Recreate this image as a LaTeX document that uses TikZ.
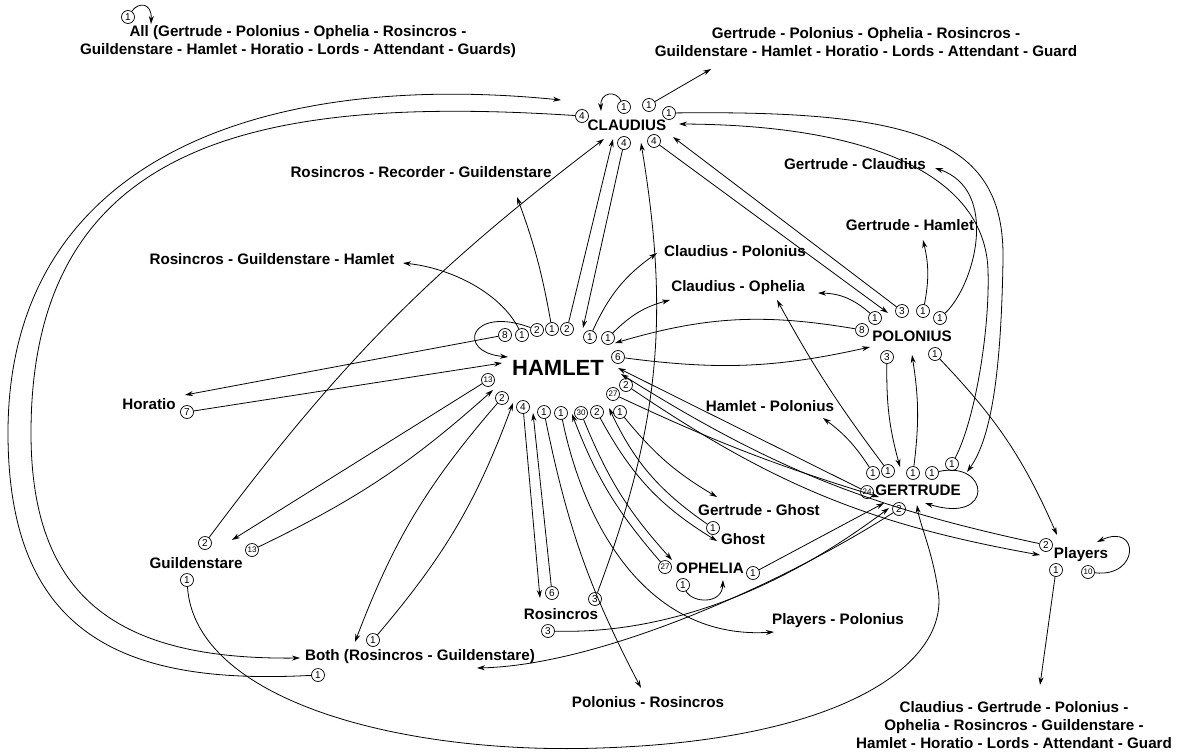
\documentclass[tikz,border=0pt]{standalone}
\usepackage{fontspec}
\setmainfont{Liberation Sans}
\usetikzlibrary{arrows.meta}

\tikzset{
  lbl/.style={inner sep=0pt, font=\bfseries\fontsize{15.2}{18}\selectfont, align=center},
  badge/.style={circle, draw, line width=0.7pt, minimum size=13pt, inner sep=0pt, font=\fontsize{10}{10}\selectfont},
  badgetwo/.style={badge, font=\fontsize{8}{8}\selectfont},
  link/.style={line width=0.8pt, -{Stealth[length=8pt,width=5pt]}},
}

\begin{document}
\begin{tikzpicture}[x=1pt,y=-1pt]
\useasboundingbox (0,0) rectangle (1184,755);

\node[lbl, font=\bfseries\fontsize{22}{24}\selectfont] (hamlet) at (558,368) {HAMLET};
\node[lbl] (claudius) at (627,125) {CLAUDIUS};
\node[lbl] (polonius) at (912,336) {POLONIUS};
\node[lbl] (gertrude) at (918,490) {GERTRUDE};
\node[lbl] (ophelia) at (710,568) {OPHELIA};
\node[lbl] (ghost) at (743,539) {Ghost};
\node[lbl] (players) at (1081,555) {Players};
\node[lbl] (horatio) at (149,404) {Horatio};
\node[lbl] (guild) at (196,563) {Guildenstare};
\node[lbl] (rosin) at (561,614) {Rosincros};
\node[lbl] (both) at (420,657) {Both (Rosincros - Guildenstare)};
\node[lbl] (allgrp) at (298,42) {All (Gertrude - Polonius - Ophelia - Rosincros -\\Guildenstare - Hamlet - Horatio - Lords - Attendant - Guards)};
\node[lbl] (court) at (866,42) {Gertrude - Polonius - Ophelia - Rosincros -\\Guildenstare - Hamlet - Horatio - Lords - Attendant - Guard};
\node[lbl] (recorder) at (421,172) {Rosincros - Recorder - Guildenstare};
\node[lbl] (rgh) at (272,259) {Rosincros - Guildenstare - Hamlet};
\node[lbl] (gcl) at (855,164) {Gertrude - Claudius};
\node[lbl] (gha) at (910,225) {Gertrude - Hamlet};
\node[lbl] (cpo) at (735,251) {Claudius - Polonius};
\node[lbl] (coph) at (738,288) {Claudius - Ophelia};
\node[lbl] (hpo) at (770,406) {Hamlet - Polonius};
\node[lbl] (ggh) at (759,510) {Gertrude - Ghost};
\node[lbl] (ppo) at (838,621) {Players - Polonius};
\node[lbl] (pro) at (648,702) {Polonius - Rosincros};
\node[lbl] (cast) at (1014,725) {Claudius - Gertrude - Polonius -\\Ophelia - Rosincros - Guildenstare -\\Hamlet - Horatio - Lords - Attendant - Guard};

\foreach \n/\x/\y/\t in {ball/128/17/1,
    cb4a/582/116/4, cb1loop/624/107/1, cb1court/649/105/1, cb1ger/669/113/1, cb4ham/624/143/4, cb4pol/654/141/4,
    hb8/505/335/8, hb1rgh/522/335/1, hb2loop/537/330/2, hb1rec/552/329/1, hb2cla/567/329/2, hb1cp/590/337/1,
    hb1co/608/338/1, hb6/618/357/6, hb2pl/626/385/2, hb2both/502/398/2, hb4/523/407/4, hb1pr/544/412/1,
    hb1pp/561/413/1, hb2gh/597/412/2, hb1gg/620/412/1,
    pb8/862/330/8, pb1co/875/318/1, pb3cla/902/311/3, pb1gh/923/311/1, pb1gc/940/318/1, pb3ger/887/357/3, pb1pl/935/354/1,
    gb1hp/873/473/1, gb1co/888/471/1, gb1pol/913/473/1, gb1loop/932/473/1, gb1cla/952/464/1, gb2/899/509/2,
    rb7/187/412/7, ub2/205/543/2, ub1/187/580/1, bb1up/373/640/1, bb1/318/675/1,
    sb6/552/593/6, sb3cla/595/599/3, sb3ger/548/631/3, ob1ger/753/573/1, ob1loop/683/585/1,
    qb1/713/528/1, yb2/1046/545/2, yb1/1056/570/1}
  \node[badge] (\n) at (\x,\y) {\t};
\foreach \n/\x/\y/\t in {hb27/613/394/27, hb13/488/380/13, hb30/581/413/30, gb24/867/492/24,
    ub13/252/550/13, ob27/665/567/27, yb10/1088/572/10}
  \node[badgetwo] (\n) at (\x,\y) {\t};

\foreach \n/\x/\y in {tall/151/24, court-in/711/69,
    c-in-both/561/100, c-in-loop/601/111, c-in-guild/604/139, c-in-ham/613/139, c-in-rosin/641/143,
    c-in-pol/673/137, c-in-ger/679/124,
    rec-in/517/197, rgh-in/403/263, cp-in/657/253, co-in-ham/670/300, co-in-pol/818/293, co-in-ger/777/300,
    gc-in/935/168, gh-in/923/240,
    h-in-cla/583/328, h-in-loop/508/357, h-in-pol/615/343, h-in-ger/618/368, h-in-pl/621/374, h-in-hor/502/363,
    h-in-guild/493/390, h-in-both/513/403, h-in-rosin/533/413, h-in-oph/572/414, h-in-ghost/609/408,
    p-in-cla/888/313, p-in-ham/870/347, p-in-ger/912/355,
    g-in-pol/900/467, g-in-cla/967/472, g-in-ham/879/497, g-in-oph/884/503, g-in-rosin/889/508,
    g-in-loop/925/503, g-in-guild/917/505,
    hor-in/185/395, guild-in/232/540, both-in-cla/300/658, both-in-ham/355/642, both-in-ger/477/668,
    rosin-in/540/598, oph-in/672/560, oph-in-loop/723/580, ghost-in/717/541, gg-in/717/497, hp-in/823/418,
    pp-in/774/632, pr-in/641/688, pl-in-pol/1057/535, pl-in-ham/1040/555, pl-in-loop/1097/542, cast-in/1040/685}
  \coordinate (\n) at (\x,\y);

% Claudius
\draw[link] (ball) .. controls (138,2) and (152,2) .. (tall);
\draw[link] (cb1loop) .. controls (616,90) and (600,92) .. (c-in-loop);
\draw[link] (cb1court) -- (court-in);
\draw[link] (cb4a) .. controls (260,95) and (31,140) .. (31,433) .. controls (31,600) and (120,660) .. (both-in-cla);
\draw[link] (bb1) .. controls (130,685) and (8,640) .. (8,433) .. controls (8,160) and (260,70) .. (c-in-both);
\draw[link] (cb1ger) .. controls (920,110) and (1005,140) .. (1003,260) .. controls (1001,380) and (990,440) .. (g-in-cla);
\draw[link] (gb1cla) .. controls (975,420) and (990,330) .. (988,270) .. controls (985,180) and (880,125) .. (c-in-ger);
\draw[link] (cb4ham) -- (h-in-cla);
\draw[link] (hb2cla) -- (c-in-ham);
\draw[link] (cb4pol) -- (p-in-cla);
\draw[link] (pb3cla) -- (c-in-pol);
\draw[link] (ub2) to[bend left=8] (c-in-guild);
\draw[link] (sb3cla) to[bend right=15] (c-in-rosin);

% Hamlet
\draw[link] (hb8) -- (hor-in);
\draw[link] (rb7) -- (h-in-hor);
\draw[link] (hb1rgh) .. controls (500,292) and (450,268) .. (rgh-in);
\draw[link] (hb2loop) .. controls (470,305) and (455,352) .. (h-in-loop);
\draw[link] (hb1rec) to[bend right=5] (rec-in);
\draw[link] (hb1cp) to[bend left=15] (cp-in);
\draw[link] (hb1co) to[bend left=15] (co-in-ham);
\draw[link] (pb8) to[bend right=13] (h-in-pol);
\draw[link] (hb6) to[bend right=10] (p-in-ham);
\draw[link] (gb24) -- (h-in-ger);
\draw[link] (yb2) to[bend left=10] (h-in-pl);
\draw[link] (hb2pl) to[bend right=12] (pl-in-ham);
\draw[link] (hb27) to[bend right=4] (g-in-ham);
\draw[link] (hb13) -- (guild-in);
\draw[link] (ub13) to[bend right=8] (h-in-guild);
\draw[link] (hb2both) to[bend right=10] (both-in-ham);
\draw[link] (bb1up) to[bend right=10] (h-in-both);
\draw[link] (hb4) -- (rosin-in);
\draw[link] (sb6) -- (h-in-rosin);
\draw[link] (hb1pr) to[bend right=8] (pr-in);
\draw[link] (hb1pp) .. controls (585,530) and (650,640) .. (pp-in);
\draw[link] (ob27) to[bend left=10] (h-in-oph);
\draw[link] (hb30) to[bend right=10] (oph-in);
\draw[link] (hb2gh) to[bend right=15] (ghost-in);
\draw[link] (qb1) to[bend left=15] (h-in-ghost);
\draw[link] (hb1gg) to[bend right=10] (gg-in);

% Polonius
\draw[link] (pb1co) to[bend right=20] (co-in-pol);
\draw[link] (pb1gh) to[bend right=12] (gh-in);
\draw[link] (pb1gc) .. controls (975,285) and (1000,190) .. (gc-in);
\draw[link] (pb3ger) to[bend right=8] (g-in-pol);
\draw[link] (gb1pol) to[bend right=8] (p-in-ger);
\draw[link] (pb1pl) to[bend left=10] (pl-in-pol);

% Gertrude
\draw[link] (gb1hp) to[bend right=10] (hp-in);
\draw[link] (gb1co) to[bend left=4] (co-in-ger);
\draw[link] (gb1loop) .. controls (990,460) and (995,525) .. (g-in-loop);
\draw[link] (gb2) .. controls (780,585) and (600,665) .. (both-in-ger);
\draw[link] (sb3ger) .. controls (700,635) and (820,560) .. (g-in-rosin);
\draw[link] (ob1ger) -- (g-in-oph);
\draw[link] (ub1) .. controls (195,700) and (400,755) .. (600,748) .. controls (850,740) and (950,660) .. (938,590) .. controls (932,550) and (920,525) .. (g-in-guild);

% Ophelia, Players
\draw[link] (ob1loop) .. controls (692,603) and (722,605) .. (oph-in-loop);
\draw[link] (yb10) .. controls (1140,578) and (1140,522) .. (pl-in-loop);
\draw[link] (yb1) -- (cast-in);
\end{tikzpicture}
\end{document}
